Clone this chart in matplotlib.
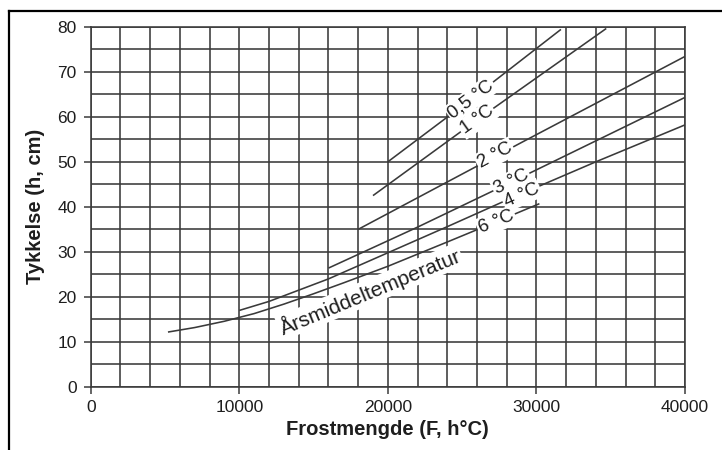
import numpy as np
import matplotlib
matplotlib.use("Agg")
import matplotlib.pyplot as plt
from matplotlib.lines import Line2D

plt.rcParams["font.family"] = ["Liberation Sans", "DejaVu Sans"]

# --- data (F in h°C, h in cm) ---
F_05 = [20000, 25600, 31650]
h_05 = [50.0, 63.9, 79.4]

F_1 = [19000, 26000, 34700]
h_1 = [42.5, 59.3, 79.6]

F_2 = [18000, 29000, 40000]
h_2 = [35.0, 54.3, 73.4]

F_3 = [16000, 22000, 28000, 40000]
h_3 = [26.4, 35.5, 45.0, 64.3]

F_4 = [10000, 12000, 14000, 16000, 20000, 24000, 28000, 34000, 40000]
h_4 = [17.0, 19.0, 21.5, 24.0, 29.8, 35.6, 41.5, 50.0, 58.2]

F_6 = [5200, 7000, 9000, 11000, 13000, 15000, 17000, 20000, 24000, 27300, 30200]
h_6 = [12.2, 13.2, 14.6, 16.3, 18.4, 20.7, 23.1, 26.8, 32.2, 36.7, 40.7]

curve_labels = ["0,5 \u00b0C", "1 \u00b0C", "2 \u00b0C", "3 \u00b0C", "4 \u00b0C", "6 \u00b0C"]
label_F = [25600, 26000, 27200, 28300, 29000, 27300]
label_h = [63.9, 59.3, 51.5, 45.6, 42.6, 36.7]
label_rot = [37, 35.5, 28, 26, 24, 22]

mid_label = "\u00c5rsmiddeltemperatur"
mid_F, mid_h = 18800, 21.2

x_ticks = [0, 10000, 20000, 30000, 40000]
y_ticks = [0, 10, 20, 30, 40, 50, 60, 70, 80]

line_col = "#3a3a3a"
text_col = "#1e1e1e"

fig = plt.figure(figsize=(7.22, 4.5), dpi=100)
fig.patch.set_facecolor("white")
ax = fig.add_axes([90.7 / 722, 63 / 450, 594.3 / 722, 360.3 / 450])

# figure frame (top and left edges only visible)
fig.add_artist(Line2D([9.3 / 722, 9.3 / 722], [0, (450 - 10.7) / 450],
                      transform=fig.transFigure, color="black", lw=1.6))
fig.add_artist(Line2D([9.3 / 722, 1.0], [(450 - 10.7) / 450, (450 - 10.7) / 450],
                      transform=fig.transFigure, color="black", lw=1.6))

for F, h in [(F_05, h_05), (F_1, h_1), (F_2, h_2), (F_3, h_3), (F_4, h_4), (F_6, h_6)]:
    ax.plot(F, h, color=line_col, lw=1.15, zorder=3, solid_capstyle="butt")

for txt, fx, hy, rot in zip(curve_labels, label_F, label_h, label_rot):
    ax.text(fx, hy, txt, rotation=rot, ha="center", va="center",
            rotation_mode="anchor", fontsize=13.5, color=text_col, zorder=5,
            bbox=dict(facecolor="white", edgecolor="none", pad=1.2))

ax.text(mid_F, mid_h, mid_label, rotation=22.5, ha="center", va="center",
        rotation_mode="anchor", fontsize=15, color=text_col, zorder=5,
        bbox=dict(facecolor="white", edgecolor="none", pad=1.0))

ax.set_xlim(0, 40000)
ax.set_ylim(0, 80)
ax.set_xticks(x_ticks)
ax.set_yticks(y_ticks)
ax.set_xticks(np.arange(0, 40001, 2000), minor=True)
ax.set_yticks(np.arange(0, 81, 5), minor=True)
ax.grid(which="both", color=line_col, lw=1.15, zorder=1)
ax.set_axisbelow(True)
ax.tick_params(which="minor", length=0)
ax.tick_params(which="major", direction="out", length=5, width=1.1,
               color=line_col, labelsize=12.5, labelcolor=text_col)
ax.tick_params(axis="x", pad=4)
ax.tick_params(axis="y", pad=5)
for s in ax.spines.values():
    s.set_color(line_col)
    s.set_linewidth(1.15)

ax.set_xlabel("Frostmengde (F, h\u00b0C)", fontsize=14.5, fontweight="bold",
              color=text_col, labelpad=4)
ax.set_ylabel("Tykkelse (h, cm)", fontsize=14.5, fontweight="bold",
              color=text_col, labelpad=9)

fig.savefig("out.png", dpi=100)
